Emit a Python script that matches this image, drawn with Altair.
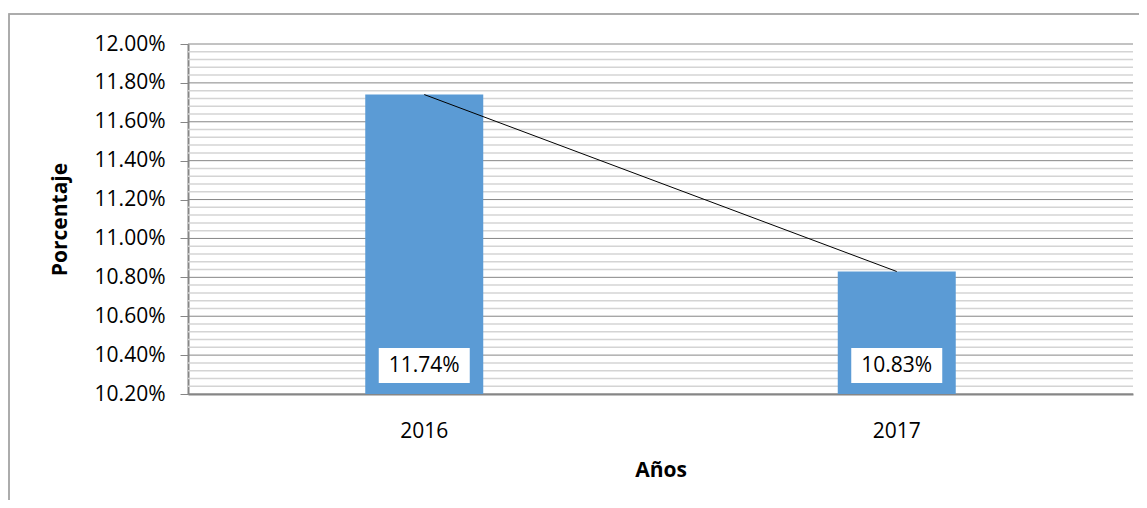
import altair as alt
import pandas as pd

years = ["2016", "2017"]
values = [0.1174, 0.1083]
labels = ["11.74%", "10.83%"]
major_ticks = [0.102, 0.104, 0.106, 0.108, 0.110, 0.112, 0.114, 0.116, 0.118, 0.120]
minor_ticks = [0.1024, 0.1028, 0.1032, 0.1036, 0.1044, 0.1048, 0.1052, 0.1056,
               0.1064, 0.1068, 0.1072, 0.1076, 0.1084, 0.1088, 0.1092, 0.1096,
               0.1104, 0.1108, 0.1112, 0.1116, 0.1124, 0.1128, 0.1132, 0.1136,
               0.1144, 0.1148, 0.1152, 0.1156, 0.1164, 0.1168, 0.1172, 0.1176,
               0.1184, 0.1188, 0.1192, 0.1196]

df = pd.DataFrame({"year": years, "value": values, "label": labels})
df_minor = pd.DataFrame({"value": minor_ticks})
df_major = pd.DataFrame({"value": major_ticks})

FONT = "Open Sans"
FS = 21
yscale = alt.Scale(domain=[0.102, 0.12], nice=False, zero=False)
xscale = alt.Scale(paddingInner=0, paddingOuter=0)

yaxis = alt.Axis(values=major_ticks, format=".2%", grid=False, labelOverlap=False,
                 tickColor="#868686", tickSize=8, domainColor="#868686",
                 domainWidth=2, labelFont=FONT, labelFontSize=FS,
                 labelColor="#000000", labelPadding=15, orient="left",
                 title="Porcentaje", titleFont=FONT, titleFontSize=FS,
                 titleFontWeight="bold", titleColor="#000000",
                 titleX=-118, titleY=175)
xaxis = alt.Axis(title="Años", labelAngle=0, ticks=False, domain=True,
                 domainColor="#868686", domainWidth=2,
                 labelFont=FONT, labelFontSize=FS, labelColor="#000000",
                 labelPadding=26, titleFont=FONT, titleFontSize=FS,
                 titleFontWeight="bold", titleColor="#000000", titlePadding=18)

base = alt.Chart(df)

holder = base.mark_bar(opacity=0, clip=True).encode(
    x=alt.X("year:N", scale=xscale, axis=xaxis),
    y=alt.Y("value:Q", scale=yscale, axis=yaxis),
)

minor = alt.Chart(df_minor).mark_rule(color="#d4d4d4", strokeWidth=1.5).encode(
    y=alt.Y("value:Q", scale=yscale, axis=None),
)
major = alt.Chart(df_major).mark_rule(color="#868686", strokeWidth=1).encode(
    y=alt.Y("value:Q", scale=yscale, axis=None),
)

bars = base.mark_bar(size=118, color="#5b9bd5", clip=True).encode(
    x=alt.X("year:N", scale=xscale),
    y=alt.Y("value:Q", scale=yscale, axis=None),
)

line = base.mark_line(color="#000000", strokeWidth=1).encode(
    x=alt.X("year:N", scale=xscale),
    y=alt.Y("value:Q", scale=yscale, axis=None),
)

boxes = base.mark_bar(size=91, color="#ffffff").encode(
    x=alt.X("year:N", scale=xscale),
    y=alt.value(304), y2=alt.value(339),
)

texts = base.mark_text(font=FONT, fontSize=FS, color="#000000", baseline="middle").encode(
    x=alt.X("year:N", scale=xscale),
    y=alt.value(322),
    text="label:N",
)

frame = base.mark_rect(fill=None, stroke="#a6a6a6", strokeWidth=1.5, clip=False).encode(
    x=alt.value(-179), x2=alt.value(1000), y=alt.value(-30), y2=alt.value(520),
)

chart = alt.layer(holder, minor, major, bars, line, boxes, texts, frame).resolve_axis(
    y="independent"
).properties(
    width=945, height=350,
    autosize=alt.AutoSizeParams(type="none"),
    padding={"left": 180, "top": 36, "right": 6, "bottom": 106},
    background="#ffffff",
).configure_view(stroke=None)

chart.save("out.html", embed_options={"renderer": "svg", "actions": False})
